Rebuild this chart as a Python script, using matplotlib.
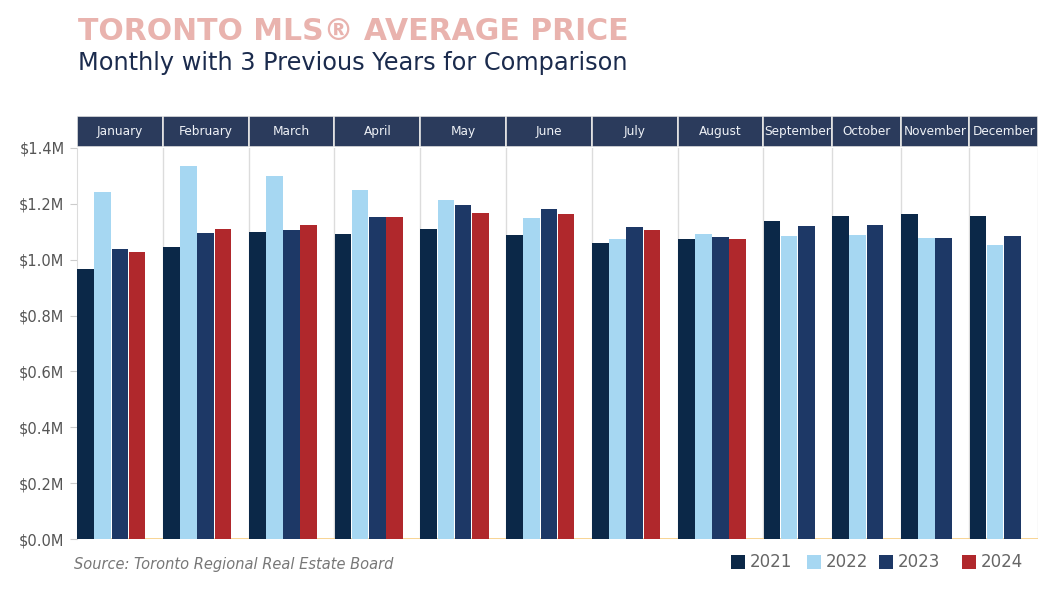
import matplotlib
matplotlib.use("Agg")
import matplotlib.pyplot as plt
from matplotlib.patches import Rectangle
from matplotlib.ticker import FuncFormatter

months = ["January", "February", "March", "April", "May", "June", "July",
          "August", "September", "October", "November", "December"]
years = ["2021", "2022", "2023", "2024"]
v2021 = [0.966, 1.044, 1.099, 1.092, 1.110, 1.088, 1.061, 1.073, 1.137, 1.158, 1.165, 1.158]
v2022 = [1.243, 1.337, 1.299, 1.251, 1.213, 1.148, 1.073, 1.091, 1.085, 1.088, 1.079, 1.052]
v2023 = [1.037, 1.095, 1.106, 1.154, 1.196, 1.182, 1.116, 1.081, 1.120, 1.123, 1.079, 1.086]
v2024 = [1.026, 1.110, 1.123, 1.154, 1.168, 1.162, 1.106, 1.075, None, None, None, None]
yticks = [0.0, 0.2, 0.4, 0.6, 0.8, 1.0, 1.2, 1.4]

colors = ["#0b2848", "#a6d7f2", "#1d3866", "#b0282c"]
series = [v2021, v2022, v2023, v2024]

W, H = 1058, 599
fig = plt.figure(figsize=(W / 100, H / 100), dpi=100)

x0, x1 = 77, 1038
ybot, ytop = 539, 148
ax = fig.add_axes([x0 / W, 1 - ybot / H, (x1 - x0) / W, (ybot - ytop) / H])

# compute panel layout
starts = []
widths = []
pos = 0.0
for i in range(len(months)):
    n = sum(1 for s in series if s[i] is not None)
    starts.append(pos)
    widths.append(n + 1)
    pos += n + 1
total = pos

for i in range(len(months)):
    k = 0
    for s, c in zip(series, colors):
        if s[i] is None:
            continue
        ax.bar(starts[i] + k + 0.5, s[i], width=0.97, color=c, edgecolor="none", zorder=3)
        k += 1

ax.set_xlim(0, total)
ax.set_ylim(0, 1.4)
for st in starts[1:]:
    ax.axvline(st, color="#dcdcdc", lw=1.0, zorder=1)
ax.axvline(total, color="#e4e4e4", lw=1.0, zorder=1)
ax.axhline(0, color="#f7c874", lw=1.8, zorder=2)

ax.set_xticks([])
ax.set_yticks(yticks)
ax.yaxis.set_major_formatter(FuncFormatter(lambda v, p: f"${v:.1f}M"))
ax.tick_params(axis="y", length=5, color="#cccccc", labelsize=10.5, labelcolor="#555555", pad=4)
for side in ["top", "right", "bottom"]:
    ax.spines[side].set_visible(False)
ax.spines["left"].set_color("#dcdcdc")

# header band
hax = fig.add_axes([x0 / W, 1 - 147 / H, (x1 - x0) / W, 31 / H])
hax.set_xlim(0, total)
hax.set_ylim(0, 1)
hax.axis("off")
for i, m in enumerate(months):
    hax.add_patch(Rectangle((starts[i], 0), widths[i], 1, facecolor="#2b3b5c",
                            edgecolor="#e6e6e6", lw=1.2))
    hax.text(starts[i] + widths[i] / 2, 0.5, m, ha="center", va="center",
             color="#eef1f6", fontsize=8.7)

fig.text(78 / W, 1 - 32 / H, "TORONTO MLS® AVERAGE PRICE", color="#e9b3ae",
         fontsize=21.5, fontweight="bold", va="center", ha="left")
fig.text(78 / W, 1 - 63 / H, "Monthly with 3 Previous Years for Comparison", color="#1b2b4d",
         fontsize=17.3, va="center", ha="left")
fig.text(74 / W, 1 - 565 / H, "Source: Toronto Regional Real Estate Board", color="#777777",
         fontsize=10.5, style="italic", va="center", ha="left")

leg_x = [731, 807, 879, 962]
for lx, y, c in zip(leg_x, years, colors):
    fig.patches.append(Rectangle((lx / W, 1 - 569 / H), 14 / W, 14 / H, facecolor=c,
                                 transform=fig.transFigure, figure=fig))
    fig.text((lx + 19) / W, 1 - 562 / H, y, color="#666666", fontsize=12, va="center", ha="left")

fig.savefig("out.png", dpi=100)
